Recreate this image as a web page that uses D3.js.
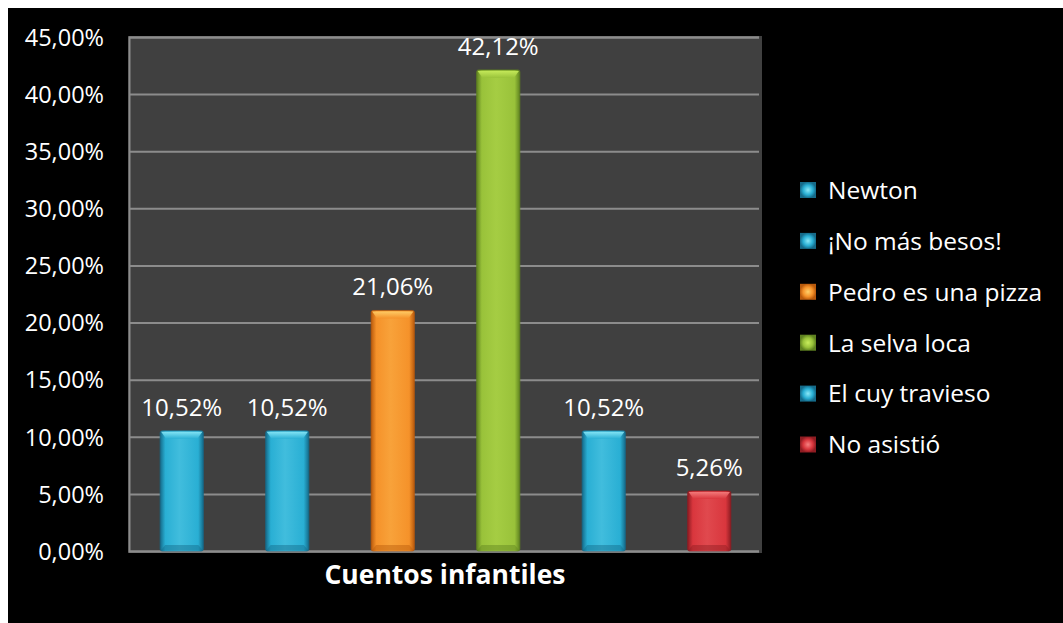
<!DOCTYPE html>
<html>
<head>
<meta charset="utf-8">
<script src="https://cdn.jsdelivr.net/npm/d3@7"></script>
<style>
  html, body { margin: 0; padding: 0; background: #ffffff; }
  svg { display: block; }
  text { font-family: "Open Sans", "Noto Sans", sans-serif; fill: #ffffff; }
</style>
</head>
<body>
<svg id="chart" width="1063" height="623"></svg>
<script>
// Stories chosen by the children (share of answers)
const categories = ["Newton", "¡No más besos!", "Pedro es una pizza", "La selva loca", "El cuy travieso", "No asistió"];
const values = [10.52, 10.52, 21.06, 42.12, 10.52, 5.26];
const yTicks = [0, 5, 10, 15, 20, 25, 30, 35, 40, 45];
const axisTitle = "Cuentos infantiles";

// Bar palette: base, dark edge, light highlight
const palette = {
  "Newton":             { base: "#29afd4", dark: "#156b8a", light: "#8ae8f7" },
  "¡No más besos!":     { base: "#29afd4", dark: "#156b8a", light: "#8ae8f7" },
  "Pedro es una pizza": { base: "#f5922a", dark: "#b95a0c", light: "#ffd06a" },
  "La selva loca":      { base: "#99c23a", dark: "#5f8220", light: "#c8ec5c" },
  "El cuy travieso":    { base: "#29afd4", dark: "#156b8a", light: "#8ae8f7" },
  "No asistió":         { base: "#d9363d", dark: "#8e1c22", light: "#f58080" }
};

const fmt = v => d3.format(".2f")(v).replace(".", ",") + "%";

const svg = d3.select("#chart");
const W = 1063, H = 623;

// black chart canvas
svg.append("rect").attr("x", 8).attr("y", 8).attr("width", W - 8).attr("height", H - 8).attr("fill", "#000");

const plot = { left: 128, right: 762, top: 36, bottom: 553 };

const x = d3.scaleBand()
  .domain(categories)
  .range([plot.left + 1, plot.right])
  .paddingInner(0.59)
  .paddingOuter(0.295);

const y = d3.scaleLinear()
  .domain([0, 45])
  .range([551, 37]);

// plot area background
svg.append("rect")
  .attr("x", plot.left).attr("y", plot.top)
  .attr("width", plot.right - plot.left).attr("height", plot.bottom - plot.top)
  .attr("fill", "#404040");

// gridlines and tick labels
const yAxis = d3.axisLeft(y).tickValues(yTicks).tickSize(-(759 - 129)).tickFormat(fmt).tickPadding(0);
const gAxis = svg.append("g").attr("transform", "translate(129,0)").call(yAxis);
gAxis.select(".domain").attr("stroke", "#8c8c8c").attr("stroke-width", 2);
gAxis.selectAll(".tick line").attr("stroke", "#8c8c8c").attr("stroke-width", 2);
gAxis.selectAll(".tick text")
  .attr("x", -25)
  .attr("dy", "0.35em")
  .attr("fill", "#fff")
  .style("font-size", "23.5px")
  .style("font-family", "'Open Sans', sans-serif");

// gradients
const defs = svg.append("defs");
categories.forEach((c, i) => {
  const p = palette[c];
  const g = defs.append("linearGradient").attr("id", "bar" + i).attr("x1", 0).attr("x2", 1).attr("y1", 0).attr("y2", 0);
  g.append("stop").attr("offset", "0%").attr("stop-color", p.dark);
  g.append("stop").attr("offset", "12%").attr("stop-color", p.base);
  g.append("stop").attr("offset", "45%").attr("stop-color", d3.interpolateRgb(p.base, p.light)(0.25));
  g.append("stop").attr("offset", "88%").attr("stop-color", p.base);
  g.append("stop").attr("offset", "100%").attr("stop-color", p.dark);
  const t = defs.append("linearGradient").attr("id", "cap" + i).attr("x1", 0).attr("x2", 0).attr("y1", 0).attr("y2", 1);
  t.append("stop").attr("offset", "0%").attr("stop-color", p.light);
  t.append("stop").attr("offset", "100%").attr("stop-color", p.base);
});

const bars = svg.append("g").selectAll("g").data(categories).join("g");

bars.append("rect")
  .attr("x", d => x(d))
  .attr("y", (d, i) => y(values[i]))
  .attr("width", x.bandwidth())
  .attr("height", (d, i) => y(0) - y(values[i]))
  .attr("rx", 2)
  .attr("fill", (d, i) => `url(#bar${i})`)
  .attr("stroke", (d) => palette[d].dark)
  .attr("stroke-opacity", 0.7)
  .attr("stroke-width", 1);

// top bevel highlight
bars.append("path")
  .attr("d", (d, i) => {
    const x0 = x(d), w = x.bandwidth(), t = y(values[i]);
    const inset = 6, h = 8;
    return `M${x0 + 1},${t + 1} L${x0 + w - 1},${t + 1} L${x0 + w - inset},${t + h} L${x0 + inset},${t + h} Z`;
  })
  .attr("fill", (d, i) => `url(#cap${i})`)
  .attr("opacity", 0.9);

// bottom bevel shade
bars.append("path")
  .attr("d", (d) => {
    const x0 = x(d), w = x.bandwidth(), b = y(0);
    const inset = 5, h = 6;
    return `M${x0 + 1},${b - 1} L${x0 + w - 1},${b - 1} L${x0 + w - inset},${b - h} L${x0 + inset},${b - h} Z`;
  })
  .attr("fill", d => palette[d].dark)
  .attr("opacity", 0.45);

// value labels
bars.append("text")
  .attr("x", d => x(d) + x.bandwidth() / 2)
  .attr("y", (d, i) => y(values[i]) - 15)
  .attr("text-anchor", "middle")
  .style("font-size", "24px")
  .text((d, i) => fmt(values[i]));

// axis title
svg.append("text")
  .attr("x", 445).attr("y", 584)
  .attr("text-anchor", "middle")
  .style("font-size", "26.5px")
  .style("font-weight", "bold")
  .text(axisTitle);

// legend
const legend = svg.append("g").selectAll("g").data(categories).join("g")
  .attr("transform", (d, i) => `translate(800,${190 + i * 50.9})`);

categories.forEach((c, i) => {
  const p = palette[c];
  const g = defs.append("radialGradient").attr("id", "leg" + i);
  g.append("stop").attr("offset", "0%").attr("stop-color", p.light);
  g.append("stop").attr("offset", "60%").attr("stop-color", p.base);
  g.append("stop").attr("offset", "100%").attr("stop-color", p.dark);
});

legend.append("rect")
  .attr("x", 0).attr("y", -8)
  .attr("width", 16).attr("height", 16)
  .attr("fill", (d, i) => `url(#leg${i})`);

legend.append("text")
  .attr("x", 28).attr("y", 0)
  .attr("dy", "0.36em")
  .style("font-size", "24.5px")
  .text(d => d);
</script>
</body>
</html>
